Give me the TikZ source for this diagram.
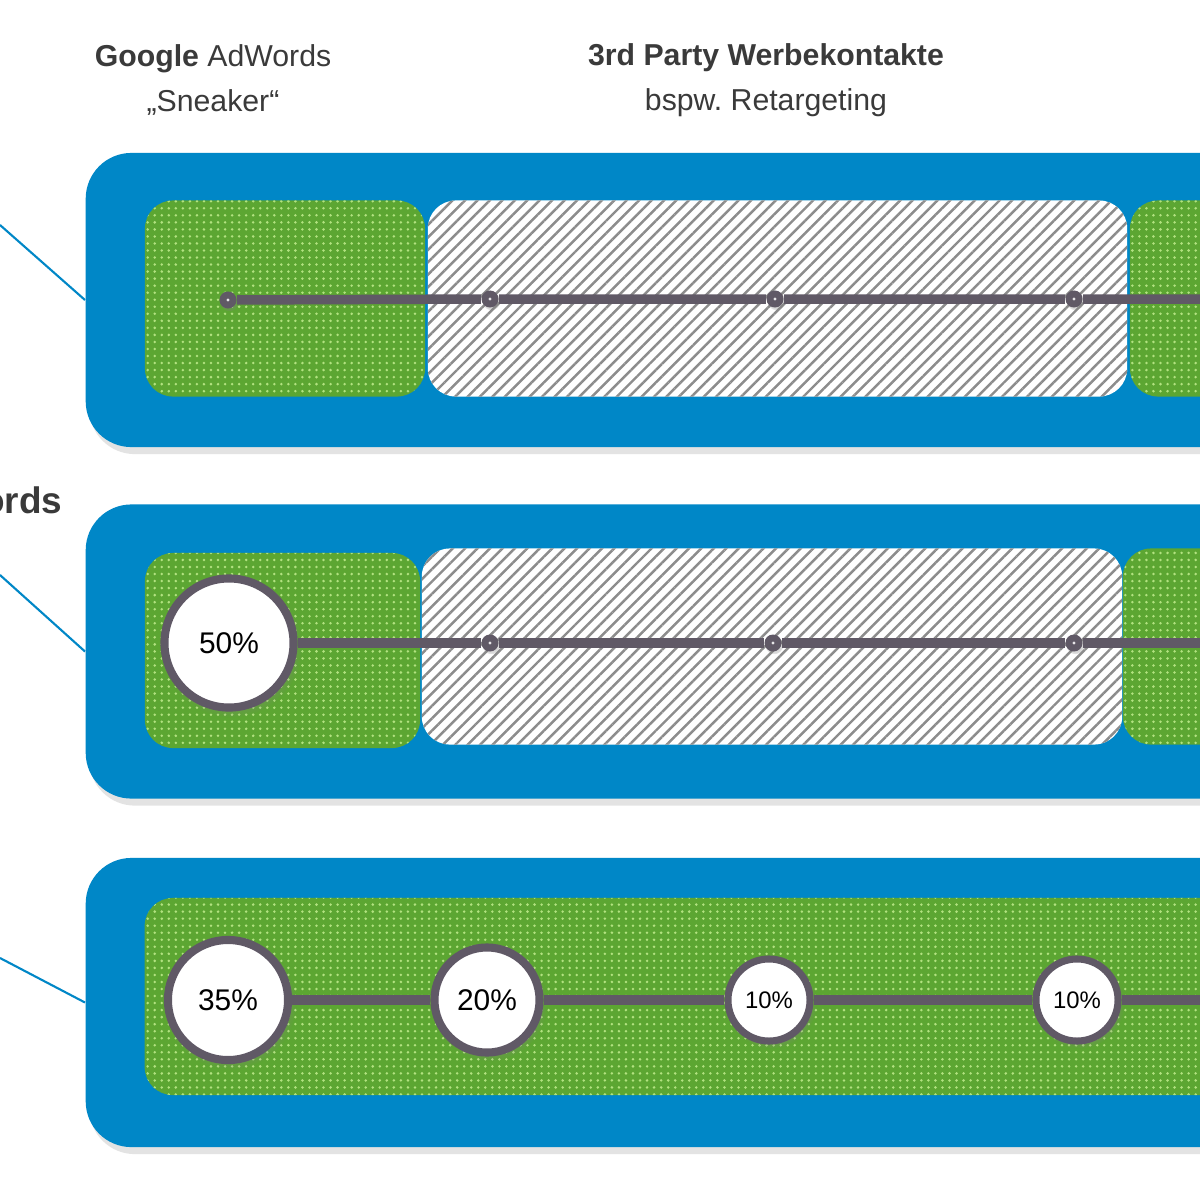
\documentclass[tikz,border=0pt]{standalone}
\usepackage{fontspec}
\setmainfont{Liberation Sans}
\usepackage{xcolor}
\usetikzlibrary{patterns.meta,shadows}
\definecolor{panelblue}{RGB}{0, 135, 199}
\definecolor{grassgreen}{RGB}{92, 166, 50}
\definecolor{dotgreen}{RGB}{178, 226, 128}
\definecolor{pathgrey}{RGB}{96, 89, 102}
\definecolor{hatchgrey}{RGB}{140, 140, 140}
\definecolor{textgrey}{RGB}{58, 58, 58}

\tikzset{
  panel/.style={anchor=west, fill=panelblue, rounded corners=13pt, minimum width=13cm, minimum height=2.94cm, drop shadow={opacity=0.22, shadow xshift=1pt, shadow yshift=-2pt}},
  greenbox/.style={rounded corners=8pt, minimum height=1.96cm, preaction={fill=grassgreen}, pattern={Dots[radius=0.4pt, distance=2pt]}, pattern color=dotgreen},
  hatchbox/.style={rounded corners=8pt, minimum height=1.96cm, preaction={fill=white}, pattern={Lines[angle=45, distance=2.5pt, line width=0.7pt]}, pattern color=hatchgrey},
  timeline/.style={draw=pathgrey, line width=2.7pt},
  touch/.style={circle, fill=pathgrey, inner sep=0pt, minimum size=0.17cm, circular drop shadow={opacity=0.3, shadow xshift=0.3pt, shadow yshift=-0.5pt}, path picture={\fill[white!85!pathgrey] (path picture bounding box.center) circle (0.45pt);}},
  share/.style={circle, draw=pathgrey, line width=2.3pt, fill=white, inner sep=0pt, text=black, font=\fontsize{8.5}{10}\selectfont, circular drop shadow={opacity=0.35, shadow xshift=0.6pt, shadow yshift=-0.9pt}},
  feed/.style={draw=panelblue, line width=0.6pt},
  head/.style={align=center, text=textgrey, font=\fontsize{8.6}{12.8}\selectfont}
}

\begin{document}
\begin{tikzpicture}[x=0.01cm, y=-0.01cm]
\clip (0,0) rectangle (1200,1200);
\fill[white] (0,0) rectangle (1200,1200);

\node[head] (adwords) at (213,80) {\textbf{Google} AdWords\\„Sneaker“};
\node[head] (thirdparty) at (766,80) {\textbf{3rd Party Werbekontakte}\\bspw.\ Retargeting};
\node[anchor=base east, inner sep=0pt, text=textgrey, font=\fontsize{10.5}{12}\selectfont\bfseries] (rowtitle) at (63,513) {AdWords};

% Zeile 1
\node[panel] (row1) at (85,300) {};
\node[greenbox, minimum width=2.8cm] (g1a) at (285,298.5) {};
\node[hatchbox, minimum width=6.99cm] (h1) at (777.5,298.5) {};
\node[greenbox, minimum width=3cm] (g1b) at (1280,298.5) {};
\node[touch] (t1a) at (228,300) {};
\node[touch] (t1b) at (490,299) {};
\node[touch] (t1c) at (775,299) {};
\node[touch] (t1d) at (1074,299) {};
\coordinate (t1e) at (1260,299);
\draw[timeline] (t1a) -- (t1b) -- (t1c) -- (t1d) -- (t1e);
\coordinate (f1) at (0,225);
\draw[feed] (f1) -- (row1.west);

% Zeile 2
\node[panel] (row2) at (85,651.5) {};
\node[greenbox, minimum width=2.75cm, minimum height=1.95cm] (g2a) at (282.5,650.5) {};
\node[hatchbox, minimum width=7cm] (h2) at (772,646.5) {};
\node[greenbox, minimum width=3cm] (g2b) at (1273,646.5) {};
\node[share, minimum size=1.29cm] (s2a) at (229,643) {50\%};
\node[touch] (t2b) at (490,643) {};
\node[touch] (t2c) at (773,643) {};
\node[touch] (t2d) at (1074,643) {};
\coordinate (t2e) at (1260,643);
\draw[timeline] (s2a) -- (t2b) -- (t2c) -- (t2d) -- (t2e);
\coordinate (f2) at (0,575);
\draw[feed] (f2) -- (row2.west);

% Zeile 3
\node[panel, minimum height=2.89cm] (row3) at (85,1002.5) {};
\node[greenbox, minimum width=12.6cm, minimum height=1.97cm] (g3) at (775,996.5) {};
\node[share, minimum size=1.2cm] (s3a) at (228,1000) {35\%};
\node[share, minimum size=1.05cm] (s3b) at (487,1000) {20\%};
\node[share, minimum size=0.82cm, line width=2pt, font=\fontsize{6.8}{8}\selectfont] (s3c) at (769,1000) {10\%};
\node[share, minimum size=0.82cm, line width=2pt, font=\fontsize{6.8}{8}\selectfont] (s3d) at (1077,1000) {10\%};
\coordinate (s3e) at (1260,1000);
\draw[timeline] (s3a) -- (s3b) -- (s3c) -- (s3d) -- (s3e);
\coordinate (f3) at (0,958);
\draw[feed] (f3) -- (row3.west);
\end{tikzpicture}
\end{document}
